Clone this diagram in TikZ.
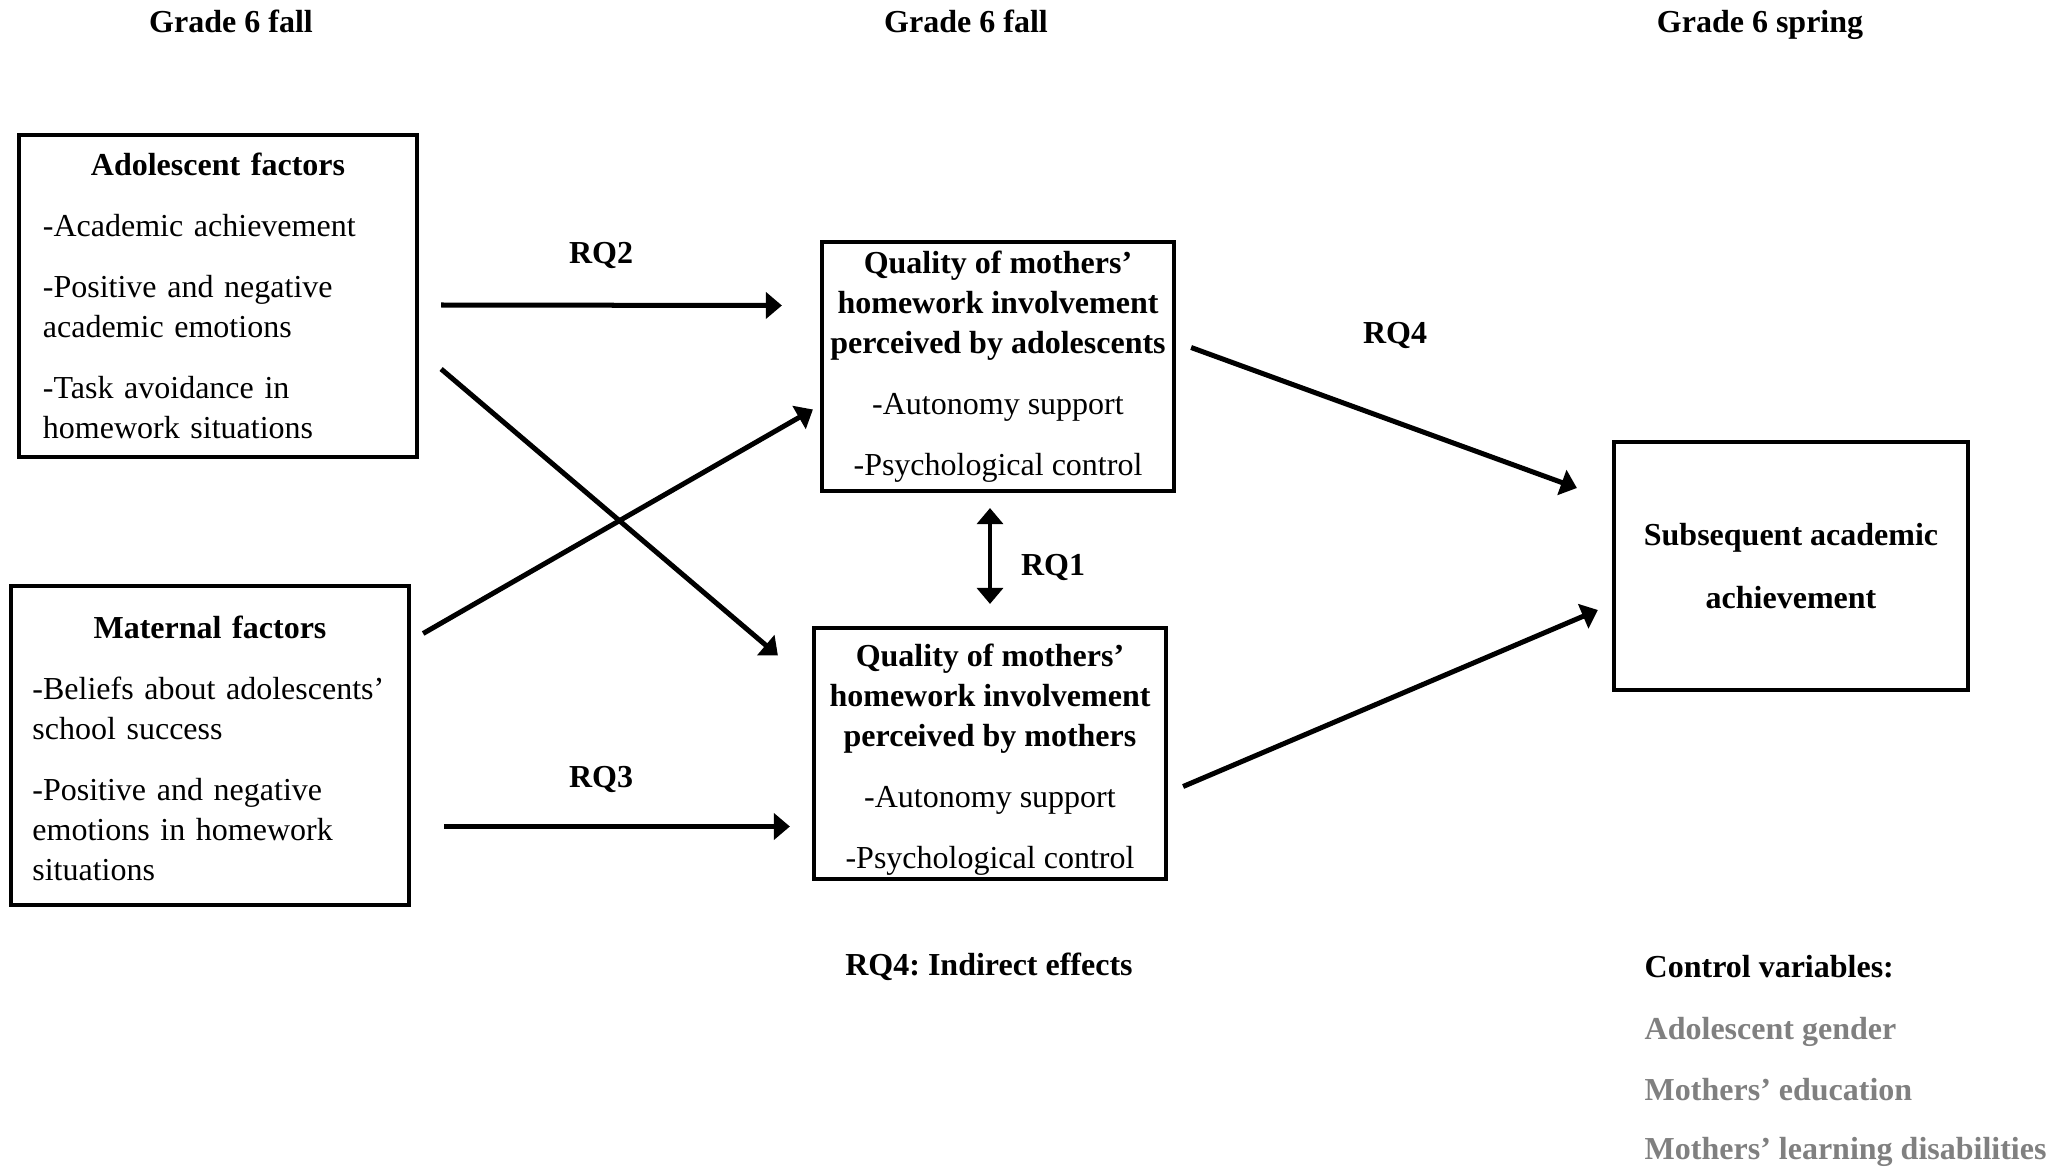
\documentclass[tikz,border=0pt]{standalone}
\usepackage{fontspec}
\setmainfont{Liberation Serif}
\usetikzlibrary{arrows.meta,calc}

\begin{document}
\begin{tikzpicture}[x=0.01cm, y=-0.01cm,
    every node/.style={font=\fontsize{9.1}{11.38}\selectfont\frenchspacing, inner sep=0pt},
    box/.style={draw, line width=0.04cm},
    lbl/.style={font=\fontsize{9.1}{11.38}\selectfont\frenchspacing\bfseries, text height=0.68em, text depth=0pt},
    arr/.style={-{Triangle[length=0.16cm,width=0.26cm]}, line width=0.05cm}]
    \useasboundingbox (0,0) rectangle (2067,1167);

    % Time points
    \node[lbl] (g1) at (231,21) {Grade 6 fall};
    \node[lbl] (g2) at (966,21) {Grade 6 fall};
    \node[lbl] (g3) at (1760,21) {Grade 6 spring};

    % Predictor boxes
    \node[box, minimum width=3.98cm, minimum height=3.22cm, text width=3.5cm, align=left] (ado) at (218,296) {\makebox[\hsize]{\textbf{Adolescent factors}}\\[6pt]-Academic achievement\\[6pt]-Positive and negative\\academic emotions\\[6pt]-Task avoidance in\\homework situations};
    \node[box, minimum width=3.98cm, minimum height=3.19cm, text width=3.55cm, align=left] (mat) at (210,745.5) {\makebox[\hsize]{\rule{0pt}{0.28cm}\textbf{Maternal factors}}\\[6pt]-Beliefs about adolescents’\\school success\\[6pt]-Positive and negative\\emotions in homework\\situations};

    % Homework involvement boxes
    \node[box, minimum width=3.52cm, minimum height=2.49cm, align=center] (qa) at (998,366.5) {\textbf{Quality of mothers’}\\\textbf{homework involvement}\\\textbf{perceived by adolescents}\\[6pt]-Autonomy support\\[6pt]-Psychological control};
    \node[box, minimum width=3.52cm, minimum height=2.51cm, align=center] (qm) at (990,753.5) {\rule{0pt}{0.35cm}\textbf{Quality of mothers’}\\\textbf{homework involvement}\\\textbf{perceived by mothers}\\[6pt]-Autonomy support\\[6pt]-Psychological control};

    % Outcome box
    \node[box, minimum width=3.54cm, minimum height=2.48cm, align=center] (sub) at (1791,566) {\textbf{Subsequent academic}\\[6.3pt]\textbf{achievement}};

    % Paths
    \draw[arr] ($(ado.east)+(22,9)$) -- ($(qa.west)+(-38,-61)$);
    \draw[arr] ($(ado.east)+(22,73)$) -- ($(qm.west)+(-34,-98)$);
    \draw[arr] ($(mat.east)+(12,-112)$) -- ($(qa.west)+(-7,43)$);
    \draw[arr] ($(mat.east)+(33,81)$) -- ($(qm.west)+(-22,73)$);
    \draw[{Triangle[length=0.16cm,width=0.26cm]}-{Triangle[length=0.16cm,width=0.26cm]}, line width=0.035cm] ($(qa.south)+(-8,15)$) -- ($(qm.north)+(0,-22)$);
    \draw[arr] ($(qa.east)+(15,-19)$) -- ($(sub.west)+(-35,-78)$);
    \draw[arr] ($(qm.east)+(15,33)$) -- ($(sub.west)+(-14,44)$);

    % Path labels
    \node[lbl] (rq2) at (601,252) {RQ2};
    \node[lbl] (rq3) at (601,776) {RQ3};
    \node[lbl] (rq1) at (1053,564) {RQ1};
    \node[lbl] (rq4) at (1395,332) {RQ4};
    \node[lbl] (ind) at (989,964) {RQ4: Indirect effects};

    % Control variables
    \node[lbl, anchor=west] (cv) at (1644,966) {Control variables:};
    \node[lbl, anchor=west, text=black!50] (cv1) at (1644,1028) {Adolescent gender};
    \node[lbl, anchor=west, text=black!50] (cv2) at (1644,1089) {Mothers’ education};
    \node[lbl, anchor=west, text=black!50] (cv3) at (1644,1148) {Mothers’ learning disabilities};
\end{tikzpicture}
\end{document}
